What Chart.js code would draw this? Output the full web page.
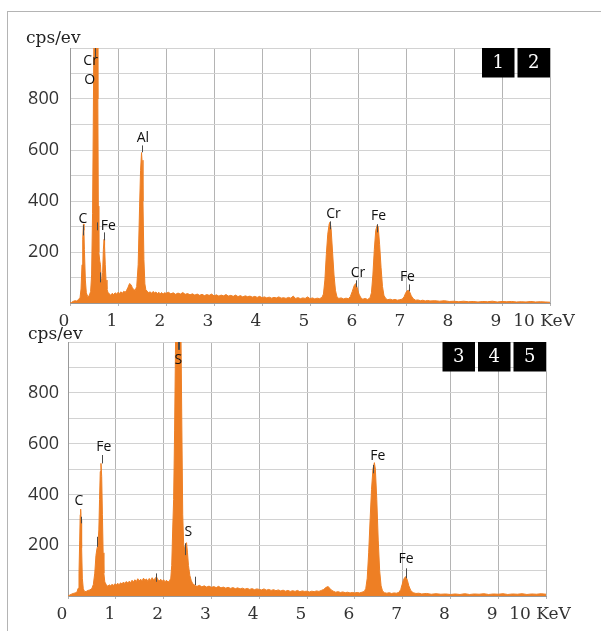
<!DOCTYPE html>
<html>
<head>
<meta charset="utf-8">
<script src="https://cdn.jsdelivr.net/npm/chart.js@4"></script>
<style>
  body { margin: 0; background: #fff; }
  #page { position: relative; width: 601px; height: 631px; overflow: hidden; }
  #frame { position: absolute; left: 7px; top: 11px; width: 620px; height: 640px;
           border-top: 1px solid #b4b4b4; border-left: 1px solid #b4b4b4; }
  canvas { position: absolute; left: 0; }
  #top { top: 0; }
  #bottom { top: 318px; }
</style>
</head>
<body>
<div id="page">
  <div id="frame"></div>
  <canvas id="top" width="601" height="330"></canvas>
  <canvas id="bottom" width="601" height="312"></canvas>
</div>
<script>
// tick labels
const xTickLabels = ['0', '1', '2', '3', '4', '5', '6', '7', '8', '9', '10 KeV'];
const yTickLabels = [200, 400, 600, 800];

// spectrum 1 (panels 1, 2)
const energy1 = [0, 0.03, 0.06, 0.10, 0.14, 0.18, 0.21, 0.23, 0.25, 0.265, 0.28, 0.29, 0.30, 0.32, 0.34, 0.37, 0.40, 0.43, 0.45, 0.47,
  0.485, 0.50, 0.52, 0.55, 0.57, 0.58, 0.59, 0.60, 0.62, 0.635, 0.65, 0.665, 0.68, 0.695, 0.71, 0.72, 0.735, 0.75, 0.77, 0.79,
  0.82, 0.85, 0.88, 0.91, 0.94, 0.97, 1.00, 1.03, 1.06, 1.09, 1.12, 1.15, 1.18, 1.21, 1.24, 1.27, 1.30, 1.33, 1.36, 1.39,
  1.42, 1.45, 1.47, 1.49, 1.50, 1.52, 1.54, 1.56, 1.58, 1.61, 1.64, 1.67, 1.70, 1.73, 1.76, 1.79, 1.82, 1.85, 1.88, 1.91,
  1.94, 1.97, 2.00, 2.05, 2.10, 2.15, 2.20, 2.25, 2.30, 2.35, 2.40, 2.45, 2.50, 2.55, 2.60, 2.65, 2.70, 2.75, 2.80, 2.85,
  2.90, 2.95, 3.00, 3.05, 3.10, 3.15, 3.20, 3.25, 3.30, 3.35, 3.40, 3.45, 3.50, 3.55, 3.60, 3.65, 3.70, 3.75, 3.80, 3.85,
  3.90, 3.95, 4.00, 4.05, 4.10, 4.15, 4.20, 4.25, 4.30, 4.35, 4.40, 4.45, 4.50, 4.55, 4.60, 4.65, 4.70, 4.75, 4.80, 4.85,
  4.90, 4.95, 5.00, 5.05, 5.10, 5.15, 5.20, 5.25, 5.28, 5.31, 5.34, 5.37, 5.40, 5.42, 5.44, 5.47, 5.50, 5.53, 5.56, 5.60,
  5.65, 5.70, 5.75, 5.80, 5.84, 5.88, 5.92, 5.95, 5.98, 6.02, 6.06, 6.10, 6.15, 6.20, 6.25, 6.28, 6.31, 6.34, 6.37, 6.40,
  6.42, 6.45, 6.48, 6.51, 6.54, 6.58, 6.62, 6.67, 6.72, 6.77, 6.82, 6.87, 6.92, 6.96, 6.99, 7.02, 7.05, 7.08, 7.11, 7.15,
  7.20, 7.25, 7.30, 7.35, 7.40, 7.45, 7.50, 7.60, 7.70, 7.80, 7.90, 8.00, 8.10, 8.20, 8.30, 8.40, 8.50, 8.60, 8.70, 8.80,
  8.90, 9.00, 9.10, 9.20, 9.30, 9.40, 9.50, 9.60, 9.70, 9.80, 9.90, 10.00];
const counts1 = [0, 2, 6, 9, 8, 14, 22, 55, 150, 250, 310, 285, 210, 90, 40, 25, 28, 45, 110, 350,
  700, 1100, 1300, 1300, 1150, 800, 380, 200, 165, 150, 95, 80, 120, 210, 250, 225, 150, 90, 55, 42,
  36, 30, 38, 33, 40, 35, 42, 37, 44, 38, 46, 42, 50, 62, 76, 72, 60, 52, 50, 65,
  150, 380, 520, 590, 560, 400, 170, 75, 52, 46, 40, 44, 38, 45, 40, 43, 37, 42, 36, 41,
  35, 40, 38, 42, 36, 40, 34, 39, 35, 41, 34, 37, 32, 36, 31, 35, 30, 34, 29, 33,
  30, 35, 28, 32, 27, 31, 28, 33, 27, 30, 26, 31, 25, 29, 24, 28, 25, 27, 23, 26,
  22, 26, 21, 24, 20, 23, 19, 22, 20, 24, 19, 21, 18, 22, 19, 27, 18, 21, 17, 20,
  18, 24, 17, 20, 16, 19, 17, 22, 35, 90, 190, 270, 310, 318, 290, 200, 110, 50, 25, 18,
  20, 16, 19, 17, 25, 45, 68, 76, 62, 35, 20, 15, 18, 14, 20, 40, 110, 210, 285, 305,
  300, 230, 140, 65, 30, 17, 13, 15, 12, 14, 11, 13, 15, 24, 38, 47, 50, 42, 28, 17,
  11, 12, 9, 11, 8, 10, 8, 9, 7, 9, 6, 7, 5, 7, 5, 6, 4, 6, 5, 7,
  4, 6, 5, 6, 4, 5, 4, 6, 4, 5, 4, 3];

// spectrum 2 (panels 3, 4, 5)
const energy2 = [0, 0.03, 0.07, 0.11, 0.15, 0.19, 0.21, 0.23, 0.245, 0.255, 0.265, 0.275, 0.285, 0.30, 0.32, 0.35, 0.38, 0.42, 0.46, 0.50,
  0.53, 0.56, 0.585, 0.605, 0.625, 0.645, 0.66, 0.675, 0.69, 0.705, 0.72, 0.735, 0.75, 0.77, 0.80, 0.83, 0.86, 0.89, 0.92, 0.95,
  0.98, 1.01, 1.04, 1.07, 1.10, 1.13, 1.16, 1.19, 1.22, 1.25, 1.28, 1.31, 1.34, 1.37, 1.40, 1.43, 1.46, 1.49, 1.52, 1.55,
  1.58, 1.61, 1.64, 1.67, 1.70, 1.73, 1.76, 1.79, 1.82, 1.85, 1.88, 1.91, 1.94, 1.97, 2.00, 2.03, 2.06, 2.09, 2.12, 2.15,
  2.17, 2.19, 2.21, 2.23, 2.25, 2.27, 2.34, 2.36, 2.38, 2.40, 2.42, 2.44, 2.46, 2.48, 2.50, 2.52, 2.55, 2.58, 2.61, 2.64,
  2.67, 2.70, 2.75, 2.80, 2.85, 2.90, 2.95, 3.00, 3.05, 3.10, 3.15, 3.20, 3.25, 3.30, 3.35, 3.40, 3.45, 3.50, 3.55, 3.60,
  3.65, 3.70, 3.75, 3.80, 3.85, 3.90, 3.95, 4.00, 4.05, 4.10, 4.15, 4.20, 4.25, 4.30, 4.35, 4.40, 4.45, 4.50, 4.55, 4.60,
  4.65, 4.70, 4.75, 4.80, 4.85, 4.90, 4.95, 5.00, 5.05, 5.10, 5.15, 5.20, 5.25, 5.30, 5.35, 5.40, 5.44, 5.48, 5.52, 5.56,
  5.60, 5.65, 5.70, 5.75, 5.80, 5.85, 5.90, 5.95, 6.00, 6.05, 6.10, 6.15, 6.20, 6.23, 6.26, 6.29, 6.32, 6.35, 6.38, 6.41,
  6.43, 6.46, 6.49, 6.52, 6.55, 6.58, 6.62, 6.67, 6.72, 6.77, 6.82, 6.87, 6.92, 6.96, 6.99, 7.02, 7.05, 7.07, 7.10, 7.13,
  7.17, 7.22, 7.28, 7.34, 7.40, 7.50, 7.60, 7.70, 7.80, 7.90, 8.00, 8.10, 8.20, 8.30, 8.40, 8.50, 8.60, 8.70, 8.80, 8.90,
  9.00, 9.10, 9.20, 9.30, 9.40, 9.50, 9.60, 9.70, 9.80, 9.90, 10.00];
const counts2 = [0, 3, 7, 10, 12, 16, 30, 90, 220, 320, 342, 300, 190, 70, 28, 17, 18, 22, 24, 30,
  45, 90, 160, 185, 200, 260, 380, 490, 522, 470, 320, 170, 90, 55, 45, 38, 44, 40, 46, 41,
  48, 43, 50, 44, 52, 47, 55, 49, 57, 51, 58, 53, 62, 55, 64, 57, 68, 59, 66, 60,
  70, 62, 67, 58, 69, 61, 72, 63, 68, 76, 64, 60, 66, 58, 64, 56, 62, 55, 58, 70,
  120, 260, 380, 650, 1000, 1300, 1300, 1100, 700, 320, 200, 185, 205, 210, 170, 120, 80, 60, 48, 44,
  40, 38, 42, 36, 40, 35, 39, 34, 37, 33, 38, 32, 35, 31, 34, 30, 33, 29, 32, 28,
  31, 27, 30, 26, 29, 25, 28, 26, 24, 28, 23, 26, 22, 25, 21, 24, 20, 23, 19, 22,
  18, 21, 18, 22, 17, 20, 18, 19, 16, 19, 17, 20, 18, 22, 26, 34, 37, 30, 22, 18,
  15, 17, 14, 16, 13, 15, 12, 14, 12, 14, 12, 15, 18, 30, 70, 170, 300, 420, 500, 525,
  500, 380, 220, 100, 40, 20, 13, 11, 13, 10, 12, 11, 14, 25, 45, 65, 74, 76, 62, 40,
  22, 13, 10, 11, 8, 10, 7, 9, 7, 8, 6, 8, 6, 9, 6, 8, 7, 9, 6, 8,
  7, 9, 6, 8, 7, 9, 6, 8, 7, 9, 7];

// peak names: label centre (keV, cps) and marker line (keV, from cps, to cps)
const peakNames1 = ['Cr', 'O', 'C', 'Fe', 'Al', 'Cr', 'Cr', 'Fe', 'Fe'];
const peakLabelE1 = [0.43, 0.41, 0.27, 0.80, 1.52, 5.49, 6.00, 6.43, 7.03];
const peakLabelY1 = [948, 873, 328, 300, 646, 348, 116, 340, 100];
const markE1 = [0.52, 0.27, 0.71, 0.57, 0.63, 1.49, 5.41, 5.95, 6.40, 7.06];
const markLo1 = [963, 265, 246, 285, 81, 591, 289, 62, 277, 46];
const markHi1 = [1000, 305, 277, 316, 120, 618, 320, 89, 309, 73];
const boxes1 = ['1', '2'];

const peakNames2 = ['S', 'Fe', 'C', 'S', 'Fe', 'Fe'];
const peakLabelE2 = [2.31, 0.75, 0.23, 2.52, 6.48, 7.07];
const peakLabelY2 = [929, 588, 374, 251, 552, 144];
const markE2 = [2.30, 2.33, 0.277, 0.705, 0.615, 1.84, 2.44, 2.65, 6.39, 7.07];
const markLo2 = [969, 969, 286, 522, 194, 56, 161, 43, 483, 70];
const markHi2 = [1000, 1000, 312, 555, 233, 89, 207, 76, 516, 109];
const boxes2 = ['3', '4', '5'];

const orange = '#ee7f24';

const peaksPlugin = {
    id: 'peaks',
    afterDatasetsDraw(chart, args, o) {
        const ctx = chart.ctx;
        const x = chart.scales.x, y = chart.scales.y;
        const area = chart.chartArea;
        ctx.save();
        ctx.strokeStyle = '#4a4a4a';
        ctx.lineWidth = 1;
        o.markE.forEach((e, i) => {
            const px = Math.round(x.getPixelForValue(e)) + 0.5;
            ctx.beginPath();
            ctx.moveTo(px, y.getPixelForValue(o.markLo[i]));
            ctx.lineTo(px, y.getPixelForValue(o.markHi[i]));
            ctx.stroke();
        });
        ctx.fillStyle = '#111';
        ctx.font = '14px "Open Sans"';
        ctx.textAlign = 'center';
        ctx.textBaseline = 'middle';
        o.names.forEach((n, i) => {
            ctx.fillText(n, x.getPixelForValue(o.labelE[i]), y.getPixelForValue(o.labelY[i]));
        });
        // numbered black boxes, top right
        ctx.font = '18px "DejaVu Serif"';
        let right = area.right;
        for (let i = o.boxes.length - 1; i >= 0; i--) {
            ctx.fillStyle = '#000';
            ctx.fillRect(right - 32.5, area.top, 32.5, 29.5);
            ctx.fillStyle = '#fff';
            ctx.fillText(o.boxes[i], right - 16.25, area.top + 15.5);
            right -= 35.5;
        }
        // unit
        ctx.fillStyle = '#222';
        ctx.font = '17px "DejaVu Serif"';
        ctx.textAlign = 'left';
        ctx.textBaseline = 'alphabetic';
        ctx.fillText('cps/ev', area.left + o.unitDx, area.top + o.unitDy);
        ctx.restore();
    }
};

function makeChart(id, energy, counts, peaks, lay) {
    return new Chart(document.getElementById(id), {
        type: 'line',
        data: {
            datasets: [{
                data: energy.map((e, i) => ({ x: e, y: counts[i] })),
                borderColor: orange,
                backgroundColor: orange,
                borderWidth: 1,
                pointRadius: 0,
                tension: 0,
                fill: 'origin'
            }]
        },
        options: {
            responsive: false,
            animation: false,
            layout: { padding: { left: 0, right: lay.right, top: lay.top, bottom: 0 } },
            plugins: { legend: { display: false }, tooltip: { enabled: false }, peaks: peaks },
            scales: {
                x: {
                    type: 'linear', min: 0, max: 10,
                    afterFit: s => { s.height = lay.xh; },
                    border: { color: '#999' },
                    grid: { color: '#b4b4b4', tickLength: 3 },
                    ticks: {
                        stepSize: 1, autoSkip: false, padding: 5, labelOffset: -6, maxRotation: 0,
                        color: '#333', font: { family: 'DejaVu Serif', size: 17 },
                        callback: v => xTickLabels[Math.round(v)]
                    }
                },
                y: {
                    min: 0, max: 1000,
                    afterFit: s => { s.width = lay.yw; },
                    border: { color: '#999' },
                    grid: { color: '#d2d2d2', drawTicks: false },
                    ticks: {
                        stepSize: 100, autoSkip: false, padding: lay.ypad,
                        color: '#333', font: { family: 'Open Sans', size: 18 },
                        callback: v => yTickLabels.includes(Math.round(v)) ? String(Math.round(v)) : ''
                    }
                }
            }
        },
        plugins: [peaksPlugin]
    });
}

makeChart('top', energy1, counts1, {
    names: peakNames1, labelE: peakLabelE1, labelY: peakLabelY1,
    markE: markE1, markLo: markLo1, markHi: markHi1, boxes: boxes1, unitDx: -44, unitDy: -5
}, { right: 51, top: 48, xh: 27, yw: 70, ypad: 11 });

makeChart('bottom', energy2, counts2, {
    names: peakNames2, labelE: peakLabelE2, labelY: peakLabelY2,
    markE: markE2, markLo: markLo2, markHi: markHi2, boxes: boxes2, unitDx: -40, unitDy: -3
}, { right: 55, top: 24, xh: 34, yw: 68, ypad: 9 });
</script>
</body>
</html>
